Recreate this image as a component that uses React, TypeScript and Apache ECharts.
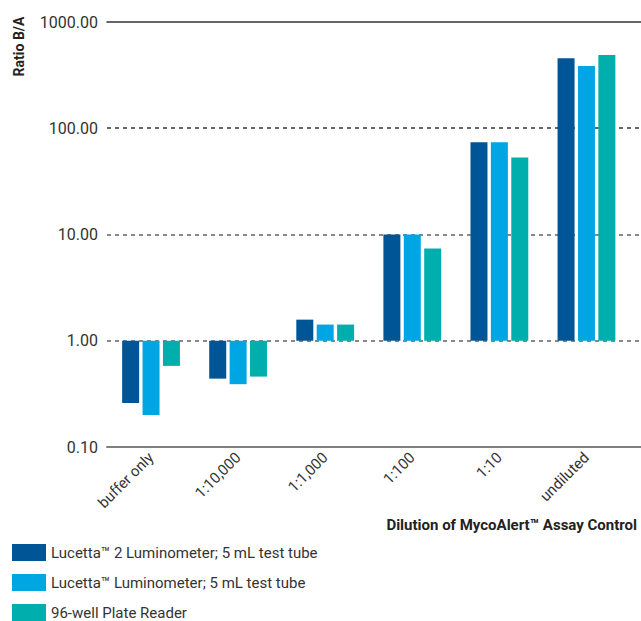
import React, { useEffect, useRef } from "react";
import * as echarts from "echarts";

const categories = ["buffer only", "1:10,000", "1:1,000", "1:100", "1:10", "undiluted"];
const seriesNames = [
  "Lucetta™ 2 Luminometer; 5 mL test tube",
  "Lucetta™ Luminometer; 5 mL test tube",
  "96-well Plate Reader",
];
const lucetta2 = [0.26, 0.44, 1.58, 10.0, 74, 457];
const lucetta = [0.2, 0.39, 1.42, 10.0, 74, 385];
const plateReader = [0.58, 0.46, 1.42, 7.4, 53, 488];
const colors = ["#005596", "#00a6e3", "#00afad"];
const yMin = 0.1;
const yMax = 1000;

const FONT = "Roboto";

export default function App() {
  const ref = useRef<HTMLDivElement>(null);
  useEffect(() => {
    document.body.style.margin = "0";
    const chart = echarts.init(ref.current!, null, { renderer: "svg" });
    const values = [lucetta2, lucetta, plateReader];
    chart.setOption({
      animation: false,
      textStyle: { fontFamily: FONT },
      grid: [
        { left: 107.5, right: 11, top: 22, bottom: 174 },
        { left: 107, right: 0, top: 22, bottom: 174 },
      ],
      legend: {
        data: seriesNames,
        orient: "vertical",
        left: 12,
        top: 544,
        height: 120,
        padding: 0,
        itemWidth: 34,
        itemHeight: 17,
        itemGap: 13,
        icon: "rect",
        textStyle: { fontSize: 15, color: "#333", fontFamily: FONT },
      },
      xAxis: [
        {
          type: "category",
          gridIndex: 0,
          data: categories,
          axisLine: { show: false },
          axisTick: { show: false },
          axisLabel: {
            rotate: 45,
            margin: 8,
            fontSize: 15,
            color: "#333",
            fontFamily: FONT,
            interval: 0,
          },
        },
        {
          type: "value",
          gridIndex: 1,
          position: "bottom",
          axisLine: { show: true, lineStyle: { color: "#808080", width: 2 } },
          axisTick: { show: false },
          axisLabel: { show: false },
          splitLine: { show: false },
        },
        {
          type: "value",
          gridIndex: 1,
          position: "top",
          axisLine: { show: true, lineStyle: { color: "#333", width: 1.5 } },
          axisTick: { show: false },
          axisLabel: { show: false },
          splitLine: { show: false },
        },
      ],
      yAxis: [
        {
          type: "log",
          gridIndex: 0,
          logBase: 10,
          min: yMin,
          max: yMax,
          show: false,
        },
        {
          type: "log",
          gridIndex: 1,
          logBase: 10,
          min: yMin,
          max: yMax,
          axisLine: { show: false },
          axisTick: { show: false },
          axisLabel: {
            margin: 9,
            fontSize: 16,
            color: "#333",
            fontFamily: FONT,
            formatter: (v: number) => Number(v).toFixed(2),
          },
          splitLine: {
            show: true,
            showMinLine: false,
            showMaxLine: false,
            lineStyle: { type: [4, 4], width: 2, color: ["#888", "#888", "#666", "#444", "#444"] },
          },
        },
      ],
      series: seriesNames.map((name, i) => ({
        name,
        type: "bar",
        xAxisIndex: 0,
        yAxisIndex: 0,
        data: values[i],
        barWidth: 17,
        barGap: "20%",
        itemStyle: { color: colors[i] },
      })),
      graphic: [
        {
          type: "text",
          x: 18.5,
          y: 46.5,
          rotation: Math.PI / 2,
          style: {
            text: "Ratio B/A",
            fontSize: 14,
            fontWeight: "bold",
            fontFamily: FONT,
            fill: "#222",
            align: "center",
            verticalAlign: "middle",
          },
        },
        {
          type: "text",
          x: 637,
          y: 525,
          style: {
            text: "Dilution of MycoAlert™ Assay Control",
            fontSize: 15,
            fontWeight: "bold",
            fontFamily: FONT,
            fill: "#222",
            align: "right",
            verticalAlign: "middle",
          },
        },
      ],
    });
    return () => chart.dispose();
  }, []);
  return <div ref={ref} style={{ width: 641, height: 621 }} />;
}
